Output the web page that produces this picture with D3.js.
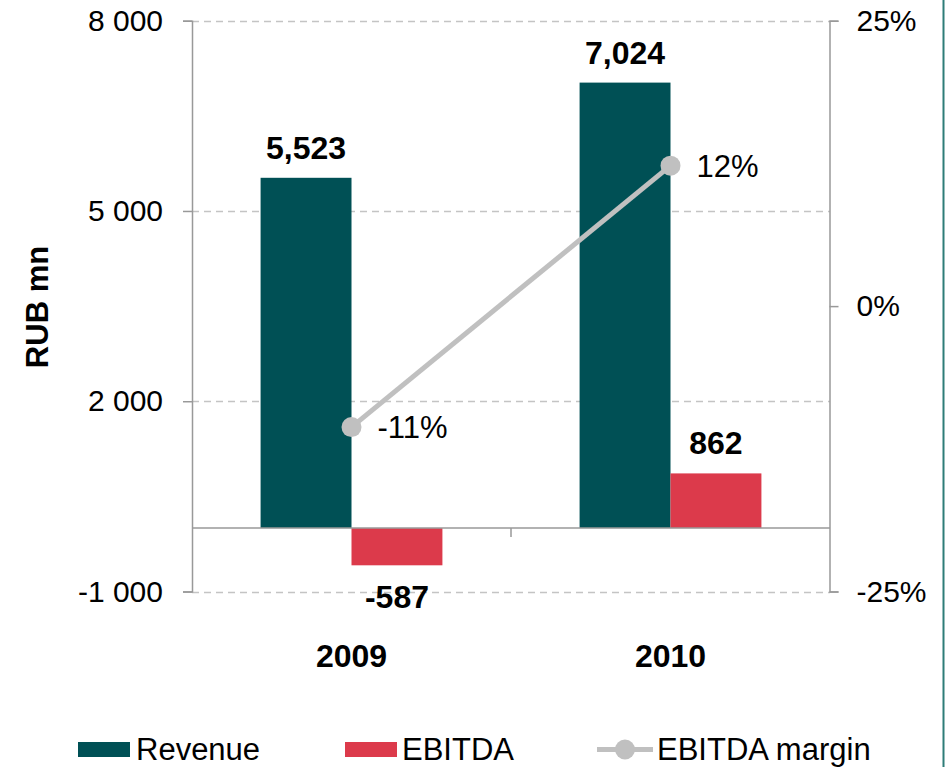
<!DOCTYPE html>
<html>
<head>
<meta charset="utf-8">
<script src="https://cdn.jsdelivr.net/npm/d3@7"></script>
<style>
body { margin: 0; background: #fff; }
text { font-family: "Liberation Sans", Arial, sans-serif; fill: #000; }
</style>
</head>
<body>
<script>
var years = ["2009", "2010"];
var revenue = [5523, 7024];
var ebitda = [-587, 862];
var margin = [-10.6, 12.3];
var marginLabels = ["-11%", "12%"];
var leftTicks = [-1000, 2000, 5000, 8000];
var rightTicks = [-25, 0, 25];

var W = 945, H = 767;
var svg = d3.select("body").append("svg").attr("width", W).attr("height", H);

var x0 = d3.scaleBand().domain(years).range([192, 830]).paddingInner(0.43).paddingOuter(0.215);
var x1 = d3.scaleBand().domain(["rev", "ebitda"]).range([0, x0.bandwidth()]);
var y = d3.scaleLinear().domain([-1000, 8000]).range([591.5, 20.7]);
var y2 = d3.scaleLinear().domain([-25, 25]).range([591.5, 20.7]);

var grey = "#999999";
var hyph = function(s) { return s.replace(/\u2212/g, "-"); };

// dashed grid lines
svg.append("g").selectAll("line").data(leftTicks).enter().append("line")
    .attr("x1", 192).attr("x2", 830)
    .attr("y1", function(d) { return Math.round(y(d)) + 0.5; })
    .attr("y2", function(d) { return Math.round(y(d)) + 0.5; })
    .style("stroke", "#c4c4c4").style("stroke-width", 1.5)
    .style("stroke-dasharray", "7,5");

// left axis
var leftAxis = d3.axisLeft(y).tickValues(leftTicks).tickSize(9).tickPadding(20)
    .tickFormat(function(d) { return hyph(d3.format(",")(d).replace(",", " ")); });
var gl = svg.append("g").attr("transform", "translate(192,0)").call(leftAxis);
gl.select(".domain").style("stroke", grey).style("stroke-width", 1.5);
gl.selectAll(".tick line").style("stroke", grey).style("stroke-width", 1.5);
gl.selectAll("text").style("font-size", "30px").style("font-family", "Liberation Sans, Arial, sans-serif").attr("fill", "#000");

// right axis
var rightAxis = d3.axisRight(y2).tickValues(rightTicks).tickSize(9).tickPadding(18)
    .tickFormat(function(d) { return d + "%"; });
var gr = svg.append("g").attr("transform", "translate(829.5,0)").call(rightAxis);
gr.select(".domain").style("stroke", grey).style("stroke-width", 1.5);
gr.selectAll(".tick line").style("stroke", grey).style("stroke-width", 1.5);
gr.selectAll("text").style("font-size", "30px").style("font-family", "Liberation Sans, Arial, sans-serif").attr("fill", "#000");

// y label
svg.append("text")
    .attr("transform", "translate(48,307) rotate(-90)")
    .attr("text-anchor", "middle")
    .style("font-size", "31px").style("font-weight", "bold")
    .text("RUB mn");

// bars
var groups = svg.append("g").selectAll("g").data(years).enter().append("g")
    .attr("transform", function(d) { return "translate(" + x0(d) + ",0)"; });

groups.append("rect")
    .attr("x", x1("rev")).attr("width", x1.bandwidth())
    .attr("y", function(d, i) { return y(revenue[i]); })
    .attr("height", function(d, i) { return y(0) - y(revenue[i]); })
    .style("fill", "#005055");

groups.append("rect")
    .attr("x", x1("ebitda")).attr("width", x1.bandwidth())
    .attr("y", function(d, i) { return y(Math.max(0, ebitda[i])); })
    .attr("height", function(d, i) { return Math.abs(y(0) - y(ebitda[i])); })
    .style("fill", "#dc3a4b");

// zero line + category separator tick
svg.append("line").attr("x1", 192).attr("x2", 830)
    .attr("y1", y(0)).attr("y2", y(0))
    .style("stroke", grey).style("stroke-width", 1.5);
svg.append("line").attr("x1", 511).attr("x2", 511)
    .attr("y1", y(0)).attr("y2", y(0) + 9)
    .style("stroke", grey).style("stroke-width", 1.5);

// value labels
var fmt = function(v) { return hyph(d3.format(",")(v)); };
groups.append("text")
    .attr("x", x1("rev") + x1.bandwidth() / 2)
    .attr("y", function(d, i) { return y(revenue[i]) - 19; })
    .attr("text-anchor", "middle")
    .style("font-size", "32px").style("font-weight", "bold")
    .text(function(d, i) { return fmt(revenue[i]); });

groups.append("text")
    .attr("x", x1("ebitda") + x1.bandwidth() / 2)
    .attr("y", function(d, i) { return ebitda[i] >= 0 ? y(ebitda[i]) - 19 : y(ebitda[i]) + 43; })
    .attr("text-anchor", "middle")
    .style("font-size", "32px").style("font-weight", "bold")
    .text(function(d, i) { return fmt(ebitda[i]); });

// category labels
svg.append("g").selectAll("text").data(years).enter().append("text")
    .attr("x", function(d) { return x0(d) + x0.bandwidth() / 2; })
    .attr("y", 667)
    .attr("text-anchor", "middle")
    .style("font-size", "32px").style("font-weight", "bold")
    .text(function(d) { return d; });

// margin line
var pts = years.map(function(d, i) { return [x0(d) + x0.bandwidth() / 2, y2(margin[i])]; });
svg.append("path").attr("d", d3.line()(pts))
    .style("fill", "none").style("stroke", "#c0c0c0").style("stroke-width", 5);
svg.append("g").selectAll("circle").data(pts).enter().append("circle")
    .attr("cx", function(d) { return d[0]; }).attr("cy", function(d) { return d[1]; })
    .attr("r", 10).style("fill", "#c0c0c0");
svg.append("g").selectAll("text").data(pts).enter().append("text")
    .attr("x", function(d) { return d[0] + 26; })
    .attr("y", function(d) { return d[1] + 11; })
    .style("font-size", "31px")
    .text(function(d, i) { return marginLabels[i]; });

// legend
var leg = svg.append("g");
leg.append("rect").attr("x", 78).attr("y", 742).attr("width", 52).attr("height", 15).style("fill", "#005055");
leg.append("text").attr("x", 136).attr("y", 760).style("font-size", "31px").text("Revenue");
leg.append("rect").attr("x", 345).attr("y", 742).attr("width", 52).attr("height", 15).style("fill", "#dc3a4b");
leg.append("text").attr("x", 402).attr("y", 760).style("font-size", "31px").text("EBITDA");
leg.append("line").attr("x1", 597).attr("x2", 653).attr("y1", 749.5).attr("y2", 749.5)
    .style("stroke", "#c0c0c0").style("stroke-width", 5);
leg.append("circle").attr("cx", 625).attr("cy", 749.5).attr("r", 10).style("fill", "#c0c0c0");
leg.append("text").attr("x", 657).attr("y", 760).style("font-size", "31px").text("EBITDA margin");

// right frame edge
svg.append("line").attr("x1", 943.5).attr("x2", 943.5).attr("y1", 0).attr("y2", H)
    .style("stroke", "#2e7d78").style("stroke-width", 2);
</script>
</body>
</html>
